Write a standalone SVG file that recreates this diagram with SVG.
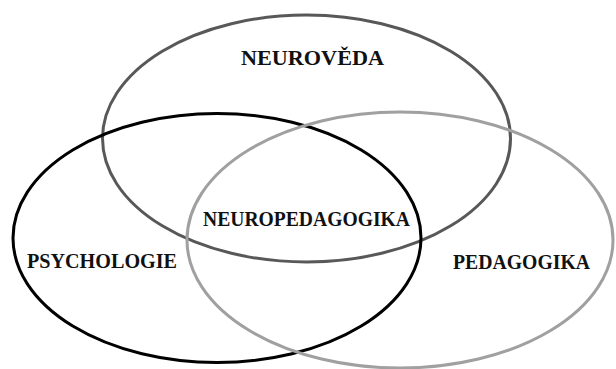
<svg xmlns="http://www.w3.org/2000/svg" width="616" height="369" viewBox="0 0 616 369">
<style>
.e{fill:none;stroke-width:3}
.t{font-family:"Liberation Serif","Times New Roman",serif;font-weight:bold;font-size:22px;fill:#111;text-anchor:middle}
</style>
<rect width="616" height="369" fill="#fff"/>
<g id="connectors"></g>
<g id="neuroveda">
<ellipse class="e" cx="306.5" cy="138.5" rx="204" ry="123.5" stroke="#585858"/>
<text class="t" x="312.5" y="65" textLength="143" lengthAdjust="spacingAndGlyphs">NEUROVĚDA</text>
</g>
<g id="psychologie">
<ellipse class="e" cx="217" cy="238" rx="204" ry="124.5" stroke="#000"/>
<text class="t" x="102" y="268" textLength="150" lengthAdjust="spacingAndGlyphs">PSYCHOLOGIE</text>
</g>
<g id="pedagogika">
<ellipse class="e" cx="400" cy="240" rx="213" ry="128" stroke="#a0a0a0"/>
<text class="t" x="521.5" y="269" textLength="137" lengthAdjust="spacingAndGlyphs">PEDAGOGIKA</text>
</g>
<g id="neuropedagogika">
<text class="t" x="306.5" y="226" textLength="207" lengthAdjust="spacingAndGlyphs">NEUROPEDAGOGIKA</text>
</g>
</svg>
